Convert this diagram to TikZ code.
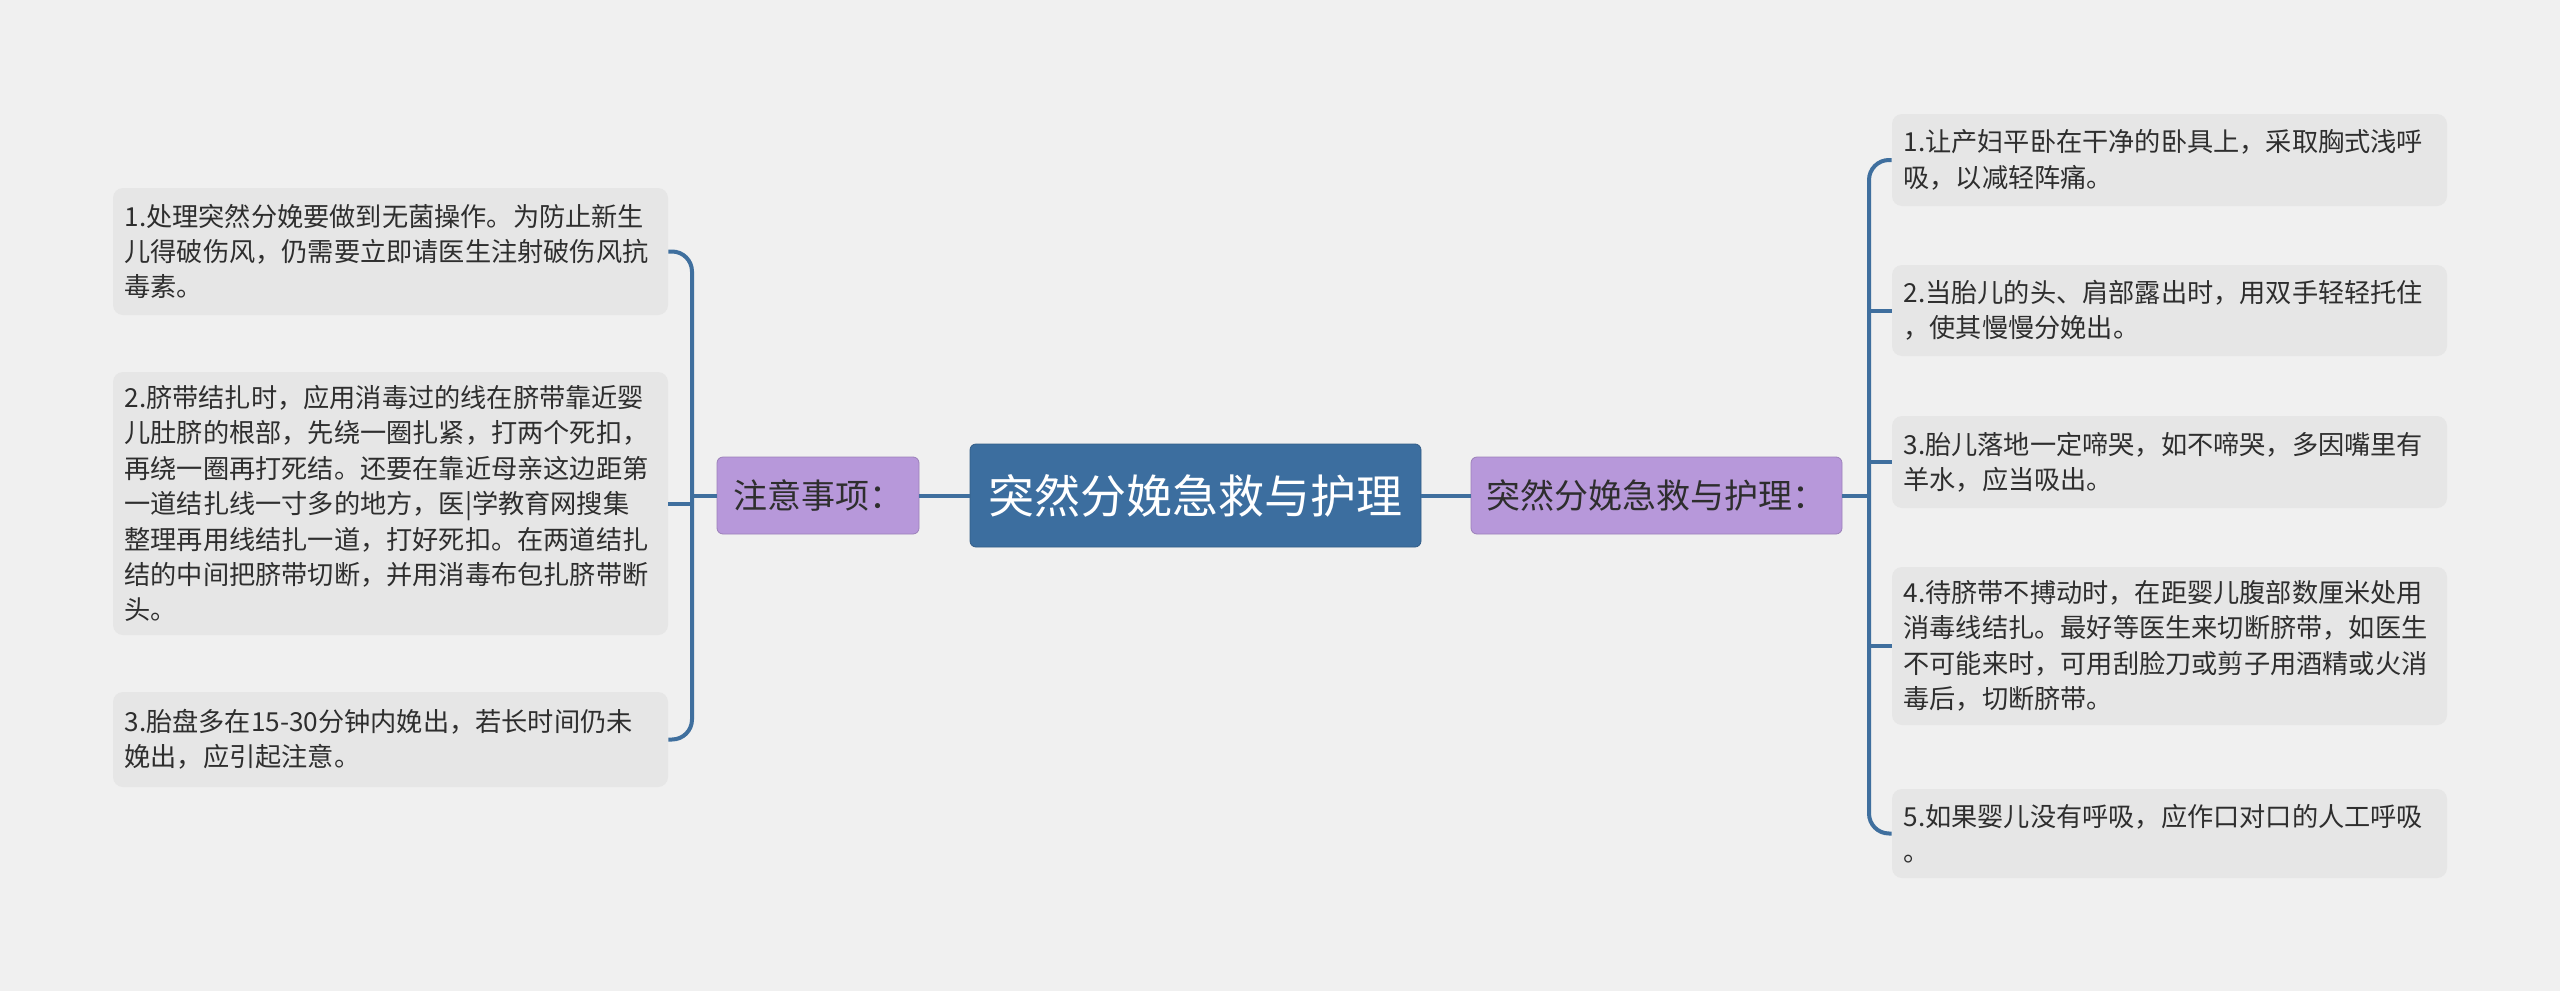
\documentclass[tikz,border=0pt]{standalone}
\usepackage{fontspec}
\setmainfont{Noto Sans CJK SC}
\usepackage{tikz}
\usetikzlibrary{positioning,calc}
\definecolor{pagegray}{HTML}{F0F0F0}
\definecolor{leafgray}{HTML}{E6E6E6}
\definecolor{rootblue}{HTML}{3C6E9F}
\definecolor{linkblue}{HTML}{3F6F9E}
\definecolor{midpurple}{HTML}{B798DA}
\definecolor{textdark}{HTML}{2E2E2E}

\begin{document}
\begin{tikzpicture}[x=0.5pt, y=-0.5pt,
    root/.style={rectangle, rounded corners=3pt, fill=rootblue, draw=rootblue!85!black, line width=0.4pt, text=white, minimum width=225.5pt, minimum height=51.5pt, font=\fontsize{23}{26}\selectfont},
    midbox/.style={rectangle, rounded corners=3pt, fill=midpurple, draw=midpurple!85!black, line width=0.4pt, text=textdark, minimum height=38.5pt, font=\fontsize{17}{20}\selectfont},
    leaf/.style={rectangle, rounded corners=5pt, fill=leafgray, text=textdark, text width=266pt, inner xsep=5.75pt, align=left, font=\fontsize{13.1}{17.7}\selectfont},
    branch/.style={draw=linkblue, line width=2pt}]
      % page
      \fill[pagegray] (0,0) rectangle (2560,991);
      \useasboundingbox (0,0) rectangle (2560,991);

      % Root
      \node[root] (root) at (1195.5,495.5) {突然分娩急救与护理};

      % Main branches
      \node[midbox, minimum width=101pt] (notes) at (818,495.5) {注意事项：};
      \node[midbox, minimum width=185.5pt] (care) at (1656.5,495.5) {突然分娩急救与护理：};

      % Left leaves
      \node[leaf, minimum height=63.5pt] (n1) at (390.5,251.5) {1.处理突然分娩要做到无菌操作。为防止新生\\儿得破伤风，仍需要立即请医生注射破伤风抗\\毒素。};
      \node[leaf, minimum height=131.5pt] (n2) at (390.5,503.5) {2.脐带结扎时，应用消毒过的线在脐带靠近婴\\儿肚脐的根部，先绕一圈扎紧，打两个死扣，\\再绕一圈再打死结。还要在靠近母亲这边距第\\一道结扎线一寸多的地方，医|学教育网搜集\\整理再用线结扎一道，打好死扣。在两道结扎\\结的中间把脐带切断，并用消毒布包扎脐带断\\头。};
      \node[leaf, minimum height=47.5pt] (n3) at (390.5,739.5) {3.胎盘多在15-30分钟内娩出，若长时间仍未\\娩出，应引起注意。};

      % Right leaves
      \node[leaf, minimum height=46pt] (c1) at (2169.5,160) {1.让产妇平卧在干净的卧具上，采取胸式浅呼\\吸，以减轻阵痛。};
      \node[leaf, minimum height=45.5pt] (c2) at (2169.5,310.5) {2.当胎儿的头、肩部露出时，用双手轻轻托住\\，使其慢慢分娩出。};
      \node[leaf, minimum height=46pt] (c3) at (2169.5,462) {3.胎儿落地一定啼哭，如不啼哭，多因嘴里有\\羊水，应当吸出。};
      \node[leaf, minimum height=79pt] (c4) at (2169.5,646) {4.待脐带不搏动时，在距婴儿腹部数厘米处用\\消毒线结扎。最好等医生来切断脐带，如医生\\不可能来时，可用刮脸刀或剪子用酒精或火消\\毒后，切断脐带。};
      \node[leaf, minimum height=44.5pt] (c5) at (2169.5,833.5) {5.如果婴儿没有呼吸，应作口对口的人工呼吸\\。};

      % Joints
      \coordinate (ljoin) at (692,495.5);
      \coordinate (rjoin) at (1869,495.5);

      % Root links
      \draw[branch] (root.west) -- (notes.east);
      \draw[branch] (root.east) -- (care.west);

      % Left bracket
      \draw[branch] (notes.west) -- (ljoin);
      \draw[branch, rounded corners=10pt] (n1.east) -| (ljoin) |- (n3.east);
      \draw[branch] (ljoin |- n2.east) -- (n2.east);

      % Right bracket
      \draw[branch] (care.east) -- (rjoin);
      \draw[branch, rounded corners=10pt] (c1.west) -| (rjoin) |- (c5.west);
      \foreach \k in {c2,c3,c4}
        \draw[branch] (rjoin |- \k.west) -- (\k.west);

    \end{tikzpicture}
\end{document}
